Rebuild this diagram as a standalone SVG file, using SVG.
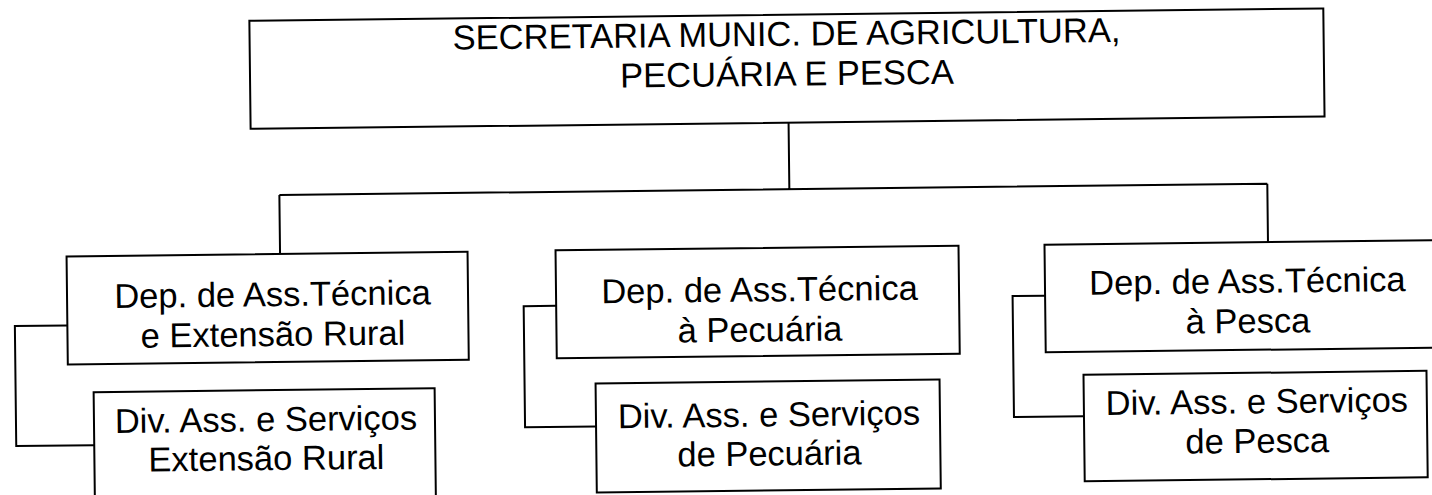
<svg xmlns="http://www.w3.org/2000/svg" width="1432" height="495" viewBox="0 0 1432 495">
<style>
.box{fill:#fff;stroke:#000;stroke-width:2}
.conn{fill:none;stroke:#000;stroke-width:2}
text{font-family:"Liberation Sans",Arial,sans-serif;font-size:34.5px;fill:#000;text-anchor:middle}
</style>
<rect width="1432" height="495" fill="#fff"/>
<g transform="rotate(-0.66 716 247)">
<g id="connectors">
<path class="conn" d="M790,123.5 V190 M280,190 H1268 M280,190 V249 M1268,190 V248.5"/>
<path class="conn" d="M66.5,318 H14 V438 H92"/>
<path class="conn" d="M555.5,304 H523 V425 H594"/>
<path class="conn" d="M1044.5,299.5 H1012 V420.5 H1082"/>
</g>
<g id="secretaria">
<rect class="box" x="252" y="15.5" width="1074" height="108"/>
<text x="789" y="46.5">SECRETARIA MUNIC. DE AGRICULTURA,</text>
<text x="789" y="86.5">PECUÁRIA E PESCA</text>
</g>
<g id="dep-extensao">
<rect class="box" x="66.5" y="249" width="401" height="108"/>
<text x="272" y="301">Dep. de Ass.Técnica</text>
<text x="272" y="341">e Extensão Rural</text>
</g>
<g id="div-extensao">
<rect class="box" x="92" y="385" width="341" height="125"/>
<text x="264" y="426">Div. Ass. e Serviços</text>
<text x="264" y="465">Extensão Rural</text>
</g>
<g id="dep-pecuaria">
<rect class="box" x="555.5" y="248.5" width="403" height="108"/>
<text x="759" y="302">Dep. de Ass.Técnica</text>
<text x="759" y="342">à Pecuária</text>
</g>
<g id="div-pecuaria">
<rect class="box" x="594" y="382" width="344" height="109"/>
<text x="767" y="427">Div. Ass. e Serviços</text>
<text x="767" y="466">de Pecuária</text>
</g>
<g id="dep-pesca">
<rect class="box" x="1044.5" y="248.5" width="402" height="107.5"/>
<text x="1247" y="299">Dep. de Ass.Técnica</text>
<text x="1247" y="339">à Pesca</text>
</g>
<g id="div-pesca">
<rect class="box" x="1082" y="379" width="343" height="106.5"/>
<text x="1255" y="419.5">Div. Ass. e Serviços</text>
<text x="1255" y="459">de Pesca</text>
</g>
</g>
</svg>
